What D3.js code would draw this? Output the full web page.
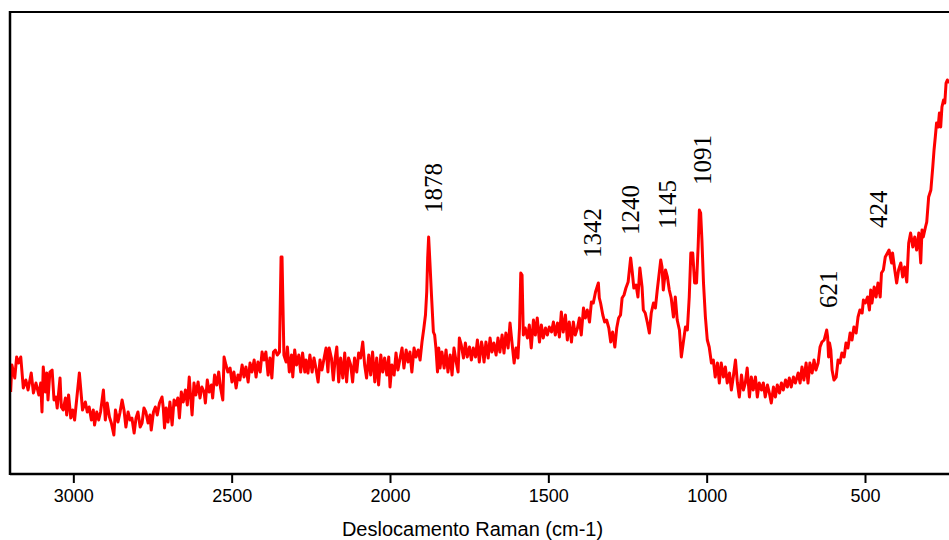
<!DOCTYPE html>
<html>
<head>
<meta charset="utf-8">
<script src="https://cdn.jsdelivr.net/npm/d3@7"></script>
<style>
  html, body { margin: 0; padding: 0; background: #fff; overflow: hidden; }
  svg { display: block; }
</style>
</head>
<body>
<svg id="chart" width="949" height="540"></svg>
<script>
// Raman spectrum: [Raman shift (cm-1), intensity (a.u.)]
const ramanSpectrum = [
  [3198,82],[3194,109],[3185,96],[3179,117],[3173,111],[3166,117],[3158,86],[3150,94],[3143,84],[3133,101],
  [3126,81],[3118,91],[3109,79],[3103,91],[3099,62],[3095,107],[3088,82],[3084,101],[3080,74],[3074,102],
  [3067,104],[3061,74],[3055,77],[3051,66],[3042,96],[3038,67],[3032,64],[3025,76],[3021,59],[3015,79],
  [3008,56],[3002,64],[2996,54],[2989,76],[2981,101],[2975,79],[2971,64],[2962,72],[2956,62],[2950,67],
  [2943,54],[2937,64],[2933,49],[2926,62],[2920,54],[2914,62],[2905,84],[2899,54],[2893,71],[2886,57],
  [2880,51],[2872,39],[2867,64],[2859,52],[2853,61],[2846,74],[2840,64],[2834,47],[2827,62],[2821,54],
  [2815,56],[2808,41],[2802,56],[2796,62],[2789,47],[2783,51],[2777,66],[2771,62],[2764,51],[2758,59],
  [2754,44],[2747,62],[2741,67],[2735,59],[2728,71],[2720,77],[2716,66],[2712,46],
  [2707,66],[2701,52],[2695,72],[2688,49],[2682,74],[2676,69],[2670,76],[2665,56],[2659,82],[2653,72],
  [2646,84],[2640,69],[2634,97],[2630,79],[2625,59],[2619,91],[2613,79],[2606,92],[2600,76],[2594,87],
  [2587,82],[2583,71],[2577,94],[2571,82],[2564,89],[2560,76],[2554,99],[2547,89],[2541,102],[2535,86],
  [2528,74],[2524,117],[2518,109],[2512,102],[2505,106],[2499,92],[2493,102],[2486,86],[2480,99],[2474,94],
  [2467,109],[2461,97],[2455,107],[2448,92],[2442,111],[2436,102],[2429,114],[2423,97],[2417,112],[2410,102],
  [2404,122],[2398,114],[2392,122],[2385,99],[2379,116],[2373,96],[2368,122],[2362,124],[2356,119],[2349,122],
  [2344,217],[2341,217],[2335,119],[2328,112],[2324,127],[2318,102],[2311,119],[2307,97],[2301,124],[2295,109],
  [2288,119],[2282,102],[2276,121],[2269,102],[2265,114],[2259,101],[2253,119],[2246,102],[2240,116],[2234,106],
  [2227,92],[2221,114],[2215,104],[2208,116],
  [2202,126],[2196,102],[2192,126],[2185,116],[2179,94],[2173,116],[2168,127],[2162,92],[2156,116],[2149,96],
  [2143,121],[2137,92],[2131,116],[2124,109],[2118,92],[2112,116],[2105,102],[2099,121],[2093,116],[2086,132],
  [2080,109],[2074,96],[2067,119],[2061,99],[2055,122],[2048,92],[2042,116],[2036,89],[2029,119],[2023,102],
  [2017,116],[2010,99],[2004,117],[2000,87],[1994,109],[1987,99],[1981,121],[1975,104],[1968,116],[1962,126],
  [1956,106],[1949,124],[1943,112],[1937,122],[1931,102],[1924,126],[1918,117],[1911,124],[1905,114],[1899,132],
  [1893,146],[1888,159],[1884,182],[1881,216],[1878,237],[1874,212],[1869,179],[1863,142],[1859,139],[1855,126],
  [1850,102],[1846,126],[1842,106],[1836,122],[1829,106],[1823,124],[1817,102],[1810,119],[1804,99],[1798,126],
  [1791,112],[1785,102],[1781,136],[1775,129],[1768,116],[1762,131],[1756,117],[1749,127],[1743,114],[1737,126],
  [1730,117],[1724,134],[1718,112],[1711,132],
  [1709,129],[1703,112],[1697,132],[1690,116],[1684,136],[1678,122],[1672,131],[1665,119],[1659,136],[1653,122],
  [1646,139],[1640,121],[1634,141],[1627,126],[1621,151],[1615,132],[1608,111],[1602,126],[1596,116],[1591,146],
  [1587,201],[1583,199],[1579,139],[1573,146],[1566,136],[1560,149],[1554,126],[1547,154],[1541,139],[1535,156],
  [1528,132],[1522,149],[1516,136],[1509,146],[1503,139],[1497,147],[1490,142],[1484,152],[1478,139],[1471,151],
  [1465,137],[1459,162],[1453,142],[1446,159],[1440,134],[1434,152],[1427,132],[1421,152],[1415,139],[1408,146],
  [1402,156],[1396,139],[1389,166],[1383,156],[1377,164],[1370,152],[1364,172],[1358,171],[1351,182],[1342,191],
  [1339,176],[1335,171],[1328,159],[1322,152],[1316,154],[1309,146],[1303,132],[1297,142],[1290,127],[1284,146],
  [1278,156],[1272,159],[1267,176],[1261,179],[1255,186],[1248,192],[1240,216],[1235,202],[1230,186],[1223,189],
  [1217,177],[1211,206],
  [1204,187],[1200,164],[1194,161],[1187,151],[1181,141],[1175,161],[1168,171],[1162,166],[1156,184],[1145,214],
  [1141,207],[1137,184],[1130,204],[1124,197],[1118,184],[1112,176],[1105,157],[1099,177],[1093,154],[1086,144],
  [1080,117],[1074,131],[1067,147],[1061,144],[1055,177],[1050,221],[1044,221],[1038,191],[1032,191],[1027,227],
  [1023,264],[1019,261],[1015,234],[1010,191],[1004,157],[998,134],[992,127],[985,111],[979,114],[973,97],
  [966,111],[960,91],[954,111],[947,97],[941,107],[935,91],[928,101],[922,84],[916,97],[909,114],
  [903,91],[897,77],[890,99],[884,84],[878,91],[872,106],[865,77],[859,97],[853,84],[846,97],
  [840,77],[834,91],[827,84],[821,91],[815,77],[808,89],[802,81],[796,71],[789,87],[783,77],
  [777,89],[770,81],[764,91],[758,84],[751,94],[745,87],[739,96],[733,87],[726,97],[720,91],
  [711,101],[705,91],[699,107],[693,94],[686,111],[680,91],[674,111],[667,101],[661,114],[655,104],
  [648,111],[642,127],[636,132],[629,134],[621,144],[618,137],[615,117],[612,131],[608,124],[604,104],
  [598,94],[591,97],[585,114],[579,111],[573,121],[566,117],[560,131],[554,126],[547,141],[541,134],
  [535,147],[528,141],[522,157],[516,164],[509,161],[505,174],[499,171],[492,177],[486,164],[482,184],
  [478,171],[471,187],[465,177],[459,191],[452,177],[448,201],[442,204],[436,217],[424,224],[420,217],
  [416,211],[413,221],[406,204],[400,191],[394,204],[387,211],[381,197],[375,207],[368,192],[362,231],
  [356,241],[349,227],[343,237],[337,224],[330,241],[324,211],[320,244],[316,237],[309,247],[305,252],
  [299,277],[292,284],[286,307],[282,324],[278,337],[274,351],[269,347],[265,361],[261,347],[257,367],
  [252,374],[248,371],[244,391],[240,394],[234,391]
];

// Axis ticks and text
const xTickValues = [3000, 2500, 2000, 1500, 1000, 500];
const xAxisTitle = "Deslocamento Raman (cm-1)";

// Band annotations: label text and the shift where that band peaks in the trace
const peakLabels = ["1878", "1342", "1240", "1145", "1091", "621", "424"];
const peakAt = [1878, 1342, 1240, 1145, 1023, 621, 424];

// Layout (pixels)
const W = 949, H = 540;
const plot = { left: 10, right: 960, top: 12, bottom: 474 };
// per-label nudge: [dx from band position to text baseline, gap above band maximum]
const labelNudge = [[13, 24], [3, 25], [8, 23], [15, 31], [12, 25], [10, 22], [-2, 22]];

const svg = d3.select("#chart");

const x = d3.scaleLinear().domain([3200, 200]).range([plot.left, plot.right]);
const y = d3.scaleLinear().domain([0, 462]).range([plot.bottom, plot.top]);

svg.append("defs").append("clipPath").attr("id", "plotClip")
  .append("rect")
  .attr("x", plot.left).attr("y", plot.top)
  .attr("width", plot.right - plot.left).attr("height", plot.bottom - plot.top);

// Spectrum trace
const line = d3.line().x(d => x(d[0])).y(d => y(d[1]));
svg.append("path")
  .datum(ramanSpectrum)
  .attr("clip-path", "url(#plotClip)")
  .attr("fill", "none")
  .attr("stroke", "#ff0000")
  .attr("stroke-width", 3)
  .attr("stroke-linejoin", "round")
  .attr("d", line);

// Frame: top border and left axis
svg.append("line")
  .attr("x1", plot.left).attr("x2", W)
  .attr("y1", plot.top).attr("y2", plot.top)
  .attr("stroke", "#000").attr("stroke-width", 2.2);
svg.append("line")
  .attr("x1", plot.left).attr("x2", plot.left)
  .attr("y1", plot.top - 1).attr("y2", plot.bottom + 1)
  .attr("stroke", "#000").attr("stroke-width", 2.5);

// Bottom axis
const xAxis = d3.axisBottom(x)
  .tickValues(xTickValues)
  .tickSize(9)
  .tickSizeOuter(0)
  .tickPadding(6)
  .tickFormat(d3.format("d"));

const gx = svg.append("g")
  .attr("transform", `translate(0,${plot.bottom})`)
  .call(xAxis);
gx.select(".domain").attr("stroke-width", 2.5).attr("d", `M${plot.left},0H${W}`);
gx.selectAll(".tick line").attr("stroke-width", 2);
gx.selectAll(".tick text")
  .attr("font-family", "'Liberation Sans', Arial, sans-serif")
  .attr("font-size", 18)
  .attr("fill", "#000");

svg.append("text")
  .attr("x", 472.5).attr("y", 535.5)
  .attr("text-anchor", "middle")
  .attr("font-family", "'Liberation Sans', Arial, sans-serif")
  .attr("font-size", 20)
  .attr("fill", "#000")
  .text(xAxisTitle);

// Band labels, written vertically above each band
peakLabels.forEach((label, i) => {
  const at = peakAt[i];
  const localMax = d3.max(ramanSpectrum.filter(d => Math.abs(d[0] - at) <= 8), d => d[1]);
  const [dx, gap] = labelNudge[i];
  const tx = x(at) + dx;
  const ty = y(localMax) - gap;
  svg.append("text")
    .attr("transform", `translate(${tx},${ty}) rotate(-90)`)
    .attr("text-anchor", "start")
    .attr("font-family", "'Liberation Serif', 'Times New Roman', serif")
    .attr("font-size", 25)
    .attr("fill", "#000")
    .text(label);
});
</script>
</body>
</html>
